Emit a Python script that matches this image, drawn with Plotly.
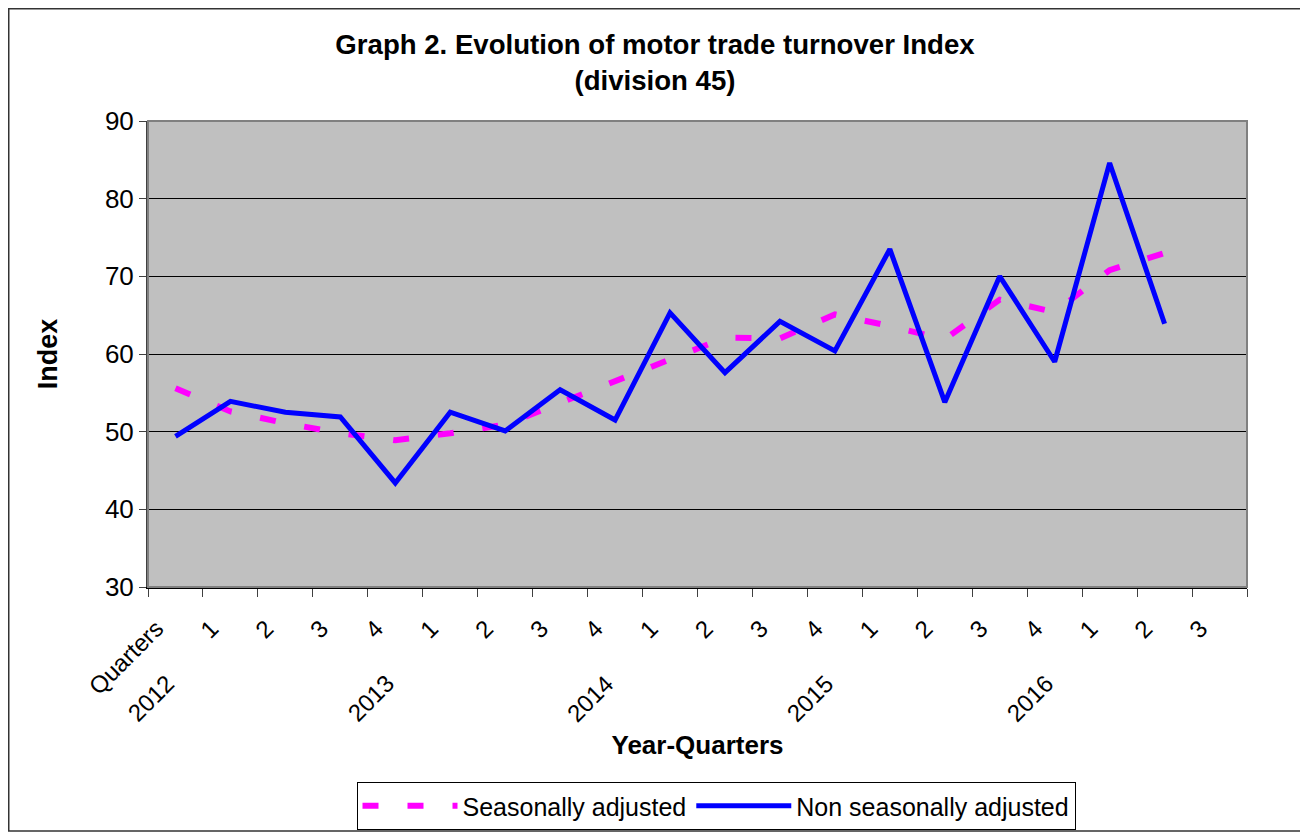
import plotly.graph_objects as go

# ---- data ----
category_ids = ["c01", "c02", "c03", "c04", "c05", "c06", "c07", "c08", "c09", "c10",
                "c11", "c12", "c13", "c14", "c15", "c16", "c17", "c18", "c19", "c20"]
quarter_labels = ["Quarters", "1", "2", "3", "4", "1", "2", "3", "4", "1",
                  "2", "3", "4", "1", "2", "3", "4", "1", "2", "3"]
year_labels = ["2012", "2013", "2014", "2015", "2016"]
year_positions = ["c01", "c05", "c09", "c13", "c17"]
seasonally_adjusted = [55.6, 52.6, 51.1, 49.8, 48.9, 49.8, 50.9, 53.7, 56.3, 59.2,
                       62.1, 62.0, 65.1, 63.6, 61.9, 67.0, 65.4, 70.8, 73.0]
non_seasonally_adjusted = [49.4, 53.9, 52.5, 51.9, 43.4, 52.5, 50.1, 55.4, 51.5, 65.3,
                           57.6, 64.2, 60.4, 73.5, 53.8, 70.0, 59.0, 84.6, 63.9]
y_ticks = [30, 40, 50, 60, 70, 80, 90]

FONT = "Liberation Sans, Arial, sans-serif"

fig = go.Figure()
fig.add_trace(go.Scatter(
    x=category_ids[:len(seasonally_adjusted)], y=seasonally_adjusted,
    mode="lines", name="Seasonally adjusted",
    line=dict(color="#FF00FF", width=6, dash="16px,29px"),
))
fig.add_trace(go.Scatter(
    x=category_ids[:len(non_seasonally_adjusted)], y=non_seasonally_adjusted,
    mode="lines", name="Non seasonally adjusted",
    line=dict(color="#0000FF", width=5),
))

# page has an 8px body margin, so the figure is sized/offset to compensate
OFF = 8
W, H = 1300, 824
L, R, T, B = 140, 61, 113, 245
pw, ph = W - L - R, H - T - B


def px_x(p):  # screen px -> paper x
    return (p - OFF - L) / pw


def px_y(p):  # screen px -> paper y
    return (H - B - (p - OFF)) / ph


fig.update_layout(
    width=W, height=H,
    margin=dict(l=L, r=R, t=T, b=B, autoexpand=False),
    paper_bgcolor="white",
    plot_bgcolor="#C0C0C0",
    font=dict(family=FONT, size=24, color="black"),
    title=dict(
        text="<b>Graph 2. Evolution of motor trade turnover Index<br>(division 45)</b>",
        x=(655 - OFF) / W, xanchor="center", xref="container",
        y=1 - (54 - OFF) / H, yanchor="top", yref="container",
        font=dict(family=FONT, size=27.6, color="black"),
    ),
    showlegend=True,
    legend=dict(
        orientation="h",
        x=px_x(716), xanchor="center",
        y=px_y(782), yanchor="top",
        bgcolor="white", bordercolor="black", borderwidth=1,
        font=dict(family=FONT, size=25),
        itemwidth=95,
    ),
    xaxis=dict(
        type="category",
        categoryorder="array", categoryarray=category_ids,
        range=[-0.5, len(category_ids) - 0.5],
        tickmode="array", tickvals=category_ids, ticktext=quarter_labels,
        tickson="boundaries",
        ticks="outside", ticklen=8, tickcolor="#404040", tickwidth=1,
        tickangle=-45,
        ticklabelshift=-19, ticklabelstandoff=16,
        tickfont=dict(family=FONT, size=24),
        showgrid=False, showline=True, linecolor="black", linewidth=2,
        zeroline=False, automargin=False,
        title=dict(text="<b>Year-Quarters</b>", font=dict(family=FONT, size=26), standoff=37),
    ),
    yaxis=dict(
        range=[30, 90], tickmode="array", tickvals=y_ticks,
        ticks="outside", ticklen=7, tickcolor="#404040", tickwidth=1,
        tickfont=dict(family=FONT, size=26),
        showgrid=True, gridcolor="black", gridwidth=1,
        showline=True, linecolor="#404040", linewidth=2,
        zeroline=False, automargin=False,
        title=dict(text="<b>Index</b>", font=dict(family=FONT, size=27), standoff=39),
    ),
)

# year labels (second level of the category axis)
for lab, pos in zip(year_labels, year_positions):
    fig.add_annotation(
        text=lab, x=pos, xref="x", y=px_y(667), yref="paper",
        xanchor="right", yanchor="top", textangle=-45, showarrow=False,
        xshift=6, font=dict(family=FONT, size=24, color="black"),
    )

# plot-area border (grey) and outer chart border
fig.add_shape(type="rect", xref="paper", yref="paper", x0=0, x1=1, y0=0, y1=1,
              line=dict(color="#808080", width=2), layer="above")
fig.add_shape(type="rect", xref="paper", yref="paper",
              x0=(0.75 - L) / pw, x1=(1297 - L) / pw,
              y0=(H - B - 823) / ph, y1=(H - B - 0.75) / ph,
              line=dict(color="#333333", width=1.5), layer="above")

fig.write_html("out.html")
